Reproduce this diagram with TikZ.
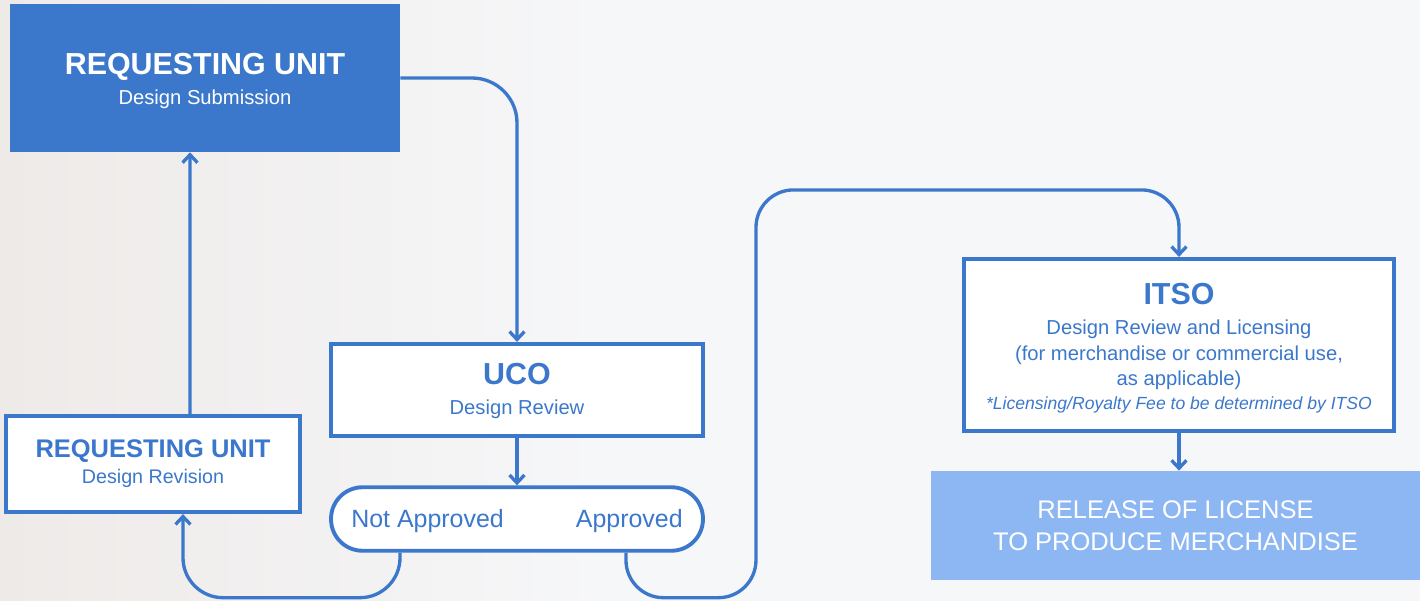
\documentclass[tikz,border=0pt]{standalone}
\usepackage{fontspec}
\setmainfont{Liberation Sans}
\usetikzlibrary{arrows.meta}
\definecolor{ublue}{RGB}{59,120,204}
\definecolor{lblue}{RGB}{141,183,242}
\definecolor{bgc}{RGB}{246,247,249}
\definecolor{bgl}{RGB}{238,234,232}
\newcommand{\boxtitle}[1]{{\fontsize{17.3}{17}\selectfont\bfseries #1}}
\begin{document}
\begin{tikzpicture}[x=0.02cm,y=-0.02cm,
  box/.style={draw=ublue,line width=2.4pt,fill=white,text=ublue,align=center,inner sep=0pt},
  flow/.style={draw=ublue,line width=1.9pt,-{Straight Barb[length=4.5pt,width=8.5pt]}}]
\useasboundingbox (0,0) rectangle (1420,601);
\shade[left color=bgl,right color=bgc] (0,0) rectangle (600,601);
\fill[bgc] (599,0) rectangle (1420,601);

\node[fill=ublue,text=white,align=center,minimum width=7.8cm,minimum height=2.96cm,font=\fontsize{11.5}{17}\selectfont] (sub) at (205,78) {\rule{0pt}{15.2pt}\boxtitle{REQUESTING UNIT}\\Design Submission};
\node[box,minimum width=7.44cm,minimum height=1.84cm,font=\fontsize{11.5}{17}\selectfont] (uco) at (517,390) {\rule{0pt}{13.4pt}\boxtitle{UCO}\\Design Review};
\node[box,line width=2.2pt,rounded corners=0.63cm,minimum width=7.44cm,minimum height=1.27cm,font=\fontsize{14.2}{17}\selectfont] (pill) at (517,519) {\rule{0pt}{12.7pt}Not Approved\hspace{41pt}Approved};
\node[box,minimum width=5.88cm,minimum height=1.92cm,font=\fontsize{11.2}{14.7}\selectfont] (rev) at (153,464) {{\fontsize{14.5}{15}\selectfont\bfseries REQUESTING UNIT}\\Design Revision};
\node[box,minimum width=8.6cm,minimum height=3.44cm,font=\fontsize{11.5}{14.7}\selectfont] (itso) at (1179,345) {\rule{0pt}{15.8pt}\boxtitle{ITSO}\\[2.3pt]Design Review and Licensing\\(for merchandise or commercial use,\\as applicable)\\[-1.1pt]{\fontsize{10}{12}\selectfont\itshape *Licensing/Royalty Fee to be determined by ITSO}};
\node[fill=lblue,text=white,align=center,minimum width=9.78cm,minimum height=2.18cm,font=\fontsize{14.5}{18}\selectfont] (rel) at (1175.5,525.5) {RELEASE OF LICENSE\\TO PRODUCE MERCHANDISE};

\draw[flow,rounded corners=0.9cm] (sub.east) -| (uco.north);
\draw[flow] (uco.south) -- (pill.north);
\draw[flow,rounded corners=0.8cm] ([xshift=-2.34cm]pill.south) -- ++(0,45) -| ([xshift=0.6cm]rev.south);
\draw[flow] ([xshift=0.74cm]rev.north) -- ([xshift=-0.3cm]sub.south);
\draw[flow,rounded corners=0.75cm] ([xshift=2.18cm]pill.south) -- ++(0,45) -- ++(130,0) |- ([yshift=1.34cm]itso.north) -- (itso.north);
\draw[flow] (itso.south) -- (itso.south |- rel.north);
\end{tikzpicture}
\end{document}
